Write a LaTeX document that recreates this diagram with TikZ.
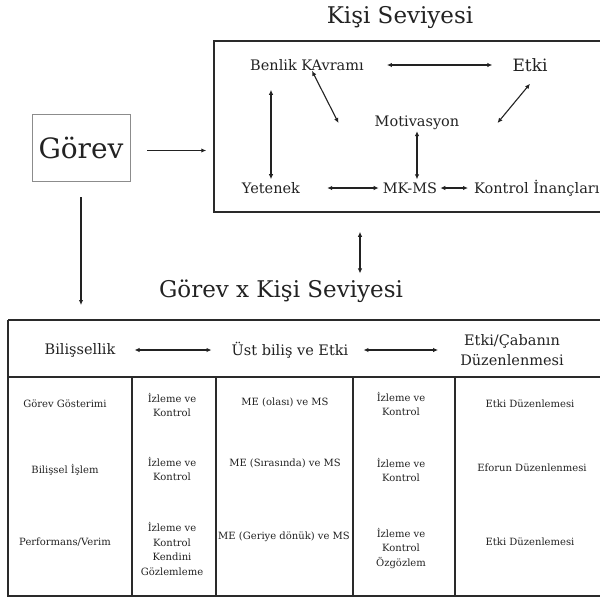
\documentclass[tikz,border=0pt]{standalone}
\usepackage{fontspec}
\setmainfont{DejaVu Serif}
\usetikzlibrary{arrows.meta}
\definecolor{KSInk}{HTML}{222222}
\definecolor{KSGray}{HTML}{8C8C8C}
\definecolor{KSLine}{HTML}{2A2A2A}

\begin{document}
\begin{tikzpicture}[x=1pt,y=-1pt,
  >={Latex[length=5pt,width=4.5pt]},
  conn/.style={<->,line width=1.1pt,KSInk},
  flow/.style={->,line width=1.1pt,KSInk},
  tline/.style={line width=1.6pt,KSLine},
  txt/.style={inner sep=0pt,text=KSInk,align=center},
  titlefont/.style={font=\fontsize{23}{27}\selectfont},
  boxfont/.style={font=\fontsize{14.5}{18}\selectfont},
  headfont/.style={font=\fontsize{14.5}{20}\selectfont},
  cellfont/.style={font=\fontsize{10}{14.5}\selectfont}]
\clip (0,0) rectangle (600,598);

\node[txt,titlefont] (kisititle) at (400,18) {Kişi Seviyesi};
\node[draw=KSLine,line width=1.5pt,minimum width=398pt,minimum height=171pt] (kisi) at (413,126.5) {};
\node[draw=KSGray,line width=0.8pt,minimum width=98pt,minimum height=67pt,text=KSInk,
  font=\fontsize{28}{32}\selectfont] (gorev) at (81,147.5) {Görev};

\node[txt,boxfont] (benlik) at (307,65) {Benlik KAvramı};
\node[txt,font=\fontsize{17}{20}\selectfont] (etki) at (530,65) {Etki};
\node[txt,boxfont] (motiv) at (417,123) {Motivasyon};
\node[txt,boxfont] (yetenek) at (271,188) {Yetenek};
\node[txt,boxfont] (mkms) at (410,188) {MK-MS};
\node[txt,boxfont,anchor=west] (kontrol) at (474,188) {Kontrol İnançları};

\draw[conn,shorten <=23pt,shorten >=20pt] (benlik.east) -- (etki.west);
\draw[conn] ([xshift=5pt]benlik.south) -- ([xshift=-36pt]motiv.west);
\draw[conn] ([yshift=-12pt]etki.south) -- ([xshift=38pt]motiv.east);
\draw[conn,shorten <=3pt,shorten >=19pt] (yetenek.north) -- (yetenek.north |- benlik.south);
\draw[conn,shorten <=1pt,shorten >=3pt] (motiv.south) -- (motiv.south |- mkms.north);
\draw[conn,shorten <=27pt,shorten >=4pt] (yetenek.east) -- (mkms.west);
\draw[conn,shorten <=3pt,shorten >=6pt] (mkms.east) -- (kontrol.west);

\draw[flow,shorten <=17pt,shorten >=7pt] ([yshift=-3pt]gorev.east) -- ([yshift=-3pt]gorev.east -| kisi.west);

\node[txt,titlefont] (ortak) at (281,291) {Görev x Kişi Seviyesi};
\draw[conn,shorten <=19pt,shorten >=6pt] ([xshift=-53pt]kisi.south) -- ([xshift=79pt]ortak.north);

\coordinate (tNW) at (8,320);
\draw[flow,shorten <=16pt,shorten >=15pt] (gorev.south) -- (gorev.south |- tNW);

\draw[tline] (tNW) -- (610,320);
\draw[tline] (tNW) -- (8,596) -- (610,596);
\draw[tline] (8,377) -- (610,377);
\draw[tline] (132,377) -- (132,596);
\draw[tline] (216,377) -- (216,596);
\draw[tline] (353,377) -- (353,596);
\draw[tline] (455,377) -- (455,596);

\node[txt,headfont] (bilis) at (80,350) {Bilişsellik};
\node[txt,headfont] (ustbilis) at (290,350) {Üst biliş ve Etki};
\node[txt,headfont] (etkicaba) at (512,350) {Etki/Çabanın\\Düzenlenmesi};
\draw[conn,shorten <=19pt,shorten >=20pt] (bilis.east) -- (ustbilis.west);
\draw[conn,shorten <=15pt,shorten >=22pt] (ustbilis.east) -- (etkicaba.west);

\node[txt,cellfont] (gosterim) at (65,404) {Görev Gösterimi};
\node[txt,cellfont] (islem) at (65,470) {Bilişsel İşlem};
\node[txt,cellfont] (verim) at (65,542) {Performans/Verim};

\node[txt,cellfont] (izlemeA) at (172,405) {İzleme ve\\Kontrol};
\node[txt,cellfont] (izlemeB) at (172,469) {İzleme ve\\Kontrol};
\node[txt,cellfont] (izlemeC) at (172,549) {İzleme ve\\Kontrol\\Kendini\\Gözlemleme};

\node[txt,cellfont] (meA) at (285,402) {ME (olası) ve MS};
\node[txt,cellfont] (meB) at (285,463) {ME (Sırasında) ve MS};
\node[txt,cellfont] (meC) at (284,537) {ME (Geriye dönük) ve MS};

\node[txt,cellfont] (izlemeD) at (401,404) {İzleme ve\\Kontrol};
\node[txt,cellfont] (izlemeE) at (401,470) {İzleme ve\\Kontrol};
\node[txt,cellfont] (izlemeF) at (401,548) {İzleme ve\\Kontrol\\Özgözlem};

\node[txt,cellfont] (duzenA) at (530,404) {Etki Düzenlemesi};
\node[txt,cellfont] (duzenB) at (532,468) {Eforun Düzenlenmesi};
\node[txt,cellfont] (duzenC) at (530,542) {Etki Düzenlemesi};
\end{tikzpicture}
\end{document}
